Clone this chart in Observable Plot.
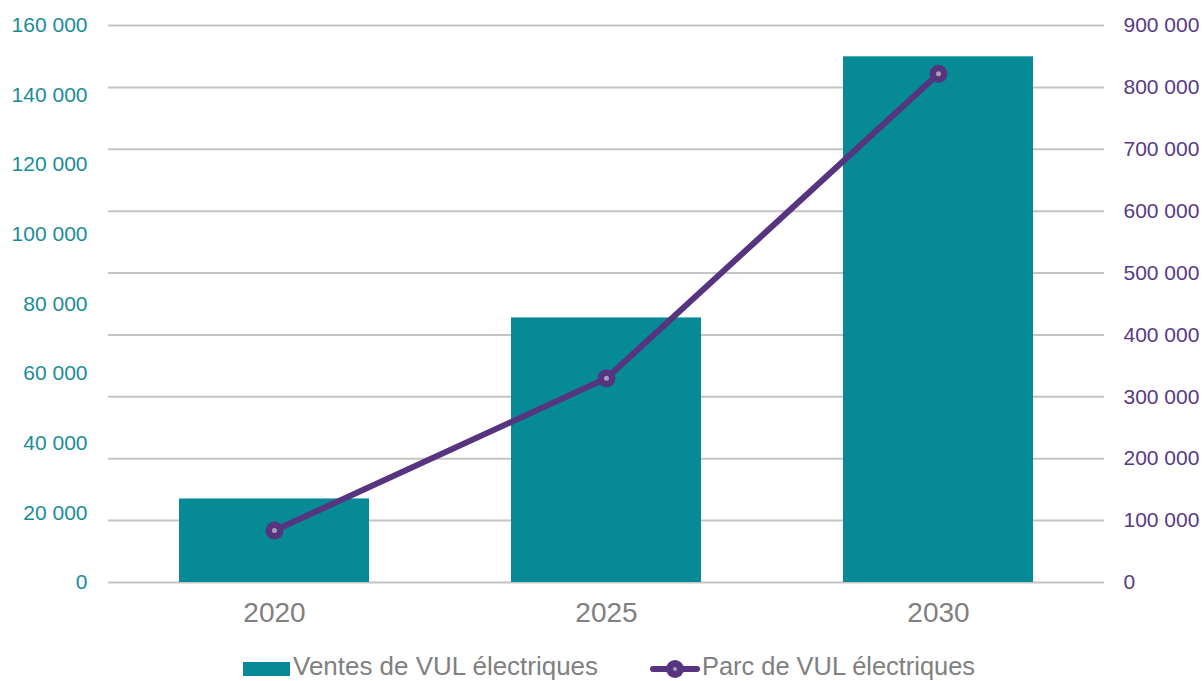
<!DOCTYPE html>
<html>
<head>
<meta charset="utf-8">
<script src="https://cdn.jsdelivr.net/npm/d3@7"></script>
<script src="https://cdn.jsdelivr.net/npm/@observablehq/plot@0.6"></script>
<style>
  html, body { margin: 0; padding: 0; background: #fff; overflow: hidden; }
  #wrap { position: relative; width: 1204px; height: 681px; }
  .lg { position: absolute; }
  .lg-text { font-family: "Liberation Sans", Arial, sans-serif; font-size: 26px; line-height: 26px; color: #808080;
             white-space: nowrap; transform-origin: 0 50%; }
  .sw-bar { width: 47px; height: 14px; background: #058A96; }
  .sw-line { width: 50px; height: 20px; }
  .sw-line .ln { position: absolute; left: 0; right: 0; top: 7px; height: 6px; background: #56347F; border-radius: 3px; }
  .sw-line .mk { position: absolute; left: 16px; top: 1px; width: 18px; height: 18px; border-radius: 50%; background: #56347F; }
  .sw-line .ct { position: absolute; left: 23px; top: 8px; width: 4px; height: 4px; border-radius: 50%; background: #A99DB8; }
</style>
</head>
<body>
<div id="wrap"></div>
<script>
// Data
const years = ["2020", "2025", "2030"];
const ventes = [24000, 76000, 151000];      // Ventes de VUL électriques (left axis)
const parc = [84000, 330000, 822000];       // Parc de VUL électriques (right axis)
const leftTicks = [0, 20000, 40000, 60000, 80000, 100000, 120000, 140000, 160000];
const rightTicks = [0, 100000, 200000, 300000, 400000, 500000, 600000, 700000, 800000, 900000];
const seriesNames = ["Ventes de VUL électriques", "Parc de VUL électriques"];

const teal = "#058A96";
const purple = "#56347F";
const leftMax = 160000, rightMax = 900000;
const k = leftMax / rightMax;

const fmt = d3.formatLocale({decimal: ",", thousands: " ", grouping: [3], currency: ["", ""]}).format(",");

const barData = years.map((y, i) => ({year: y, v: ventes[i]}));
const lineData = years.map((y, i) => ({year: y, v: parc[i] * k}));

const chart = Plot.plot({
  width: 1204,
  height: 640,
  marginTop: 25,
  marginBottom: 58,
  marginLeft: 108,
  marginRight: 100,
  style: {fontFamily: "'Liberation Sans', Arial, sans-serif", background: "#fff", overflow: "visible"},
  x: {domain: years, paddingInner: 0.428, paddingOuter: 0.214, label: null},
  y: {domain: [0, leftMax], label: null},
  marks: [
    Plot.ruleY(rightTicks.map(d => d * k), {stroke: "#C4C4C4", strokeWidth: 2}),
    Plot.barY(barData, {x: "year", y: "v", fill: teal}),
    Plot.line(lineData, {x: "year", y: "v", stroke: purple, strokeWidth: 6, strokeLinejoin: "round", strokeLinecap: "round"}),
    Plot.dot(lineData, {x: "year", y: "v", r: 9, fill: purple, stroke: "none"}),
    Plot.dot(lineData, {x: "year", y: "v", r: 2.5, fill: "#A99DB8", stroke: "none"}),
    Plot.axisX({tickSize: 0, tickPadding: 20, fontSize: 28, color: "#808080", label: null}),
    Plot.axisY(leftTicks, {anchor: "left", tickSize: 0, tickPadding: 21, fontSize: 21, color: "#1A8C97", tickFormat: fmt, label: null}),
    Plot.axisY(rightTicks.map(d => d * k), {anchor: "right", tickSize: 0, tickPadding: 19, fontSize: 21, color: "#573A86", tickFormat: d => fmt(Math.round(d / k)), label: null})
  ]
});

const wrap = document.getElementById("wrap");
wrap.appendChild(chart);

// Legend (HTML, below the SVG area)
function add(cls, left, top, html) {
  const el = document.createElement("div");
  el.className = "lg " + cls;
  el.style.left = left + "px";
  el.style.top = top + "px";
  el.innerHTML = html || "";
  wrap.appendChild(el);
  return el;
}
add("sw-bar", 243, 662);
const t1 = add("lg-text", 293, 653, seriesNames[0]);
add("sw-line", 650, 659, '<div class="ln"></div><div class="mk"></div><div class="ct"></div>');
const t2 = add("lg-text", 702, 653, seriesNames[1]);
// fit text widths to the reference's narrower face
[[t1, 305], [t2, 273]].forEach(([el, w]) => {
  const actual = el.getBoundingClientRect().width;
  if (actual > 0) el.style.transform = `scaleX(${w / actual})`;
});
</script>
</body>
</html>
